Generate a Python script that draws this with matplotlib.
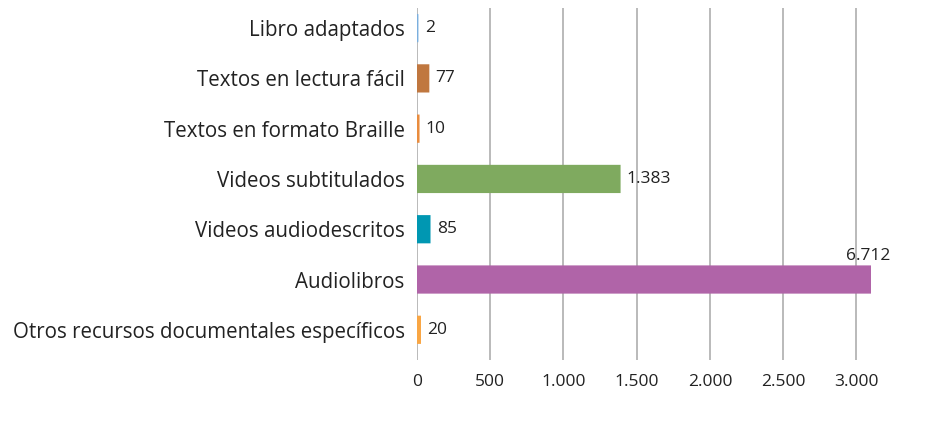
import numpy as np
import matplotlib.pyplot as plt

plt.rcParams['font.family'] = ['Open Sans', 'DejaVu Sans']

# Datos del gráfico
categorias = ['Libro adaptados', 'Textos en lectura fácil', 'Textos en formato Braille',
              'Videos subtitulados', 'Videos audiodescritos', 'Audiolibros',
              'Otros recursos documentales específicos']
valores = [2, 77, 10, 1383, 85, 6712, 20]
colores = ['#7BAFDE', '#C0773F', '#E98C3E', '#7FAA5F', '#0097B2', '#B064A8', '#F9A644']
ticks_x = [0, 500, 1000, 1500, 2000, 2500, 3000]
x_max = 3100

def fmt(v):
    return f"{v:,}".replace(",", ".")

fig = plt.figure(figsize=(9.42, 4.21), dpi=100)
ax = fig.add_axes([0.4427, 0.145, 0.4819, 0.836])

y = np.arange(len(categorias))
ax.barh(y, valores, height=0.52, color=colores, edgecolor=colores, linewidth=1.5,
        zorder=3, snap=False)

ax.set_xlim(0, x_max)
ax.set_ylim(len(categorias) - 0.4, -0.4)
ax.set_xticks(ticks_x)
ax.set_xticklabels([fmt(t) for t in ticks_x], fontsize=12.5, color='#222222')
ax.tick_params(axis='both', length=0)
ax.tick_params(axis='x', pad=10)
ax.tick_params(axis='y', pad=9)
ax.set_yticks(y)
ax.set_yticklabels(categorias, fontsize=14.8, color='#222222')

ax.grid(axis='x', color='#B4B4B4', linewidth=1.3, zorder=0)
for s in ax.spines.values():
    s.set_visible(False)

# Etiquetas de valores
for yi, v in zip(y, valores):
    if v > x_max:
        ax.text(x_max - 20, yi - 0.3, fmt(v), ha='center', va='bottom',
                fontsize=12.5, color='#222222')
    else:
        ax.text(v + 50, yi, fmt(v), ha='left', va='center',
                fontsize=12.5, color='#222222')

fig.savefig('out.png', dpi=100)
